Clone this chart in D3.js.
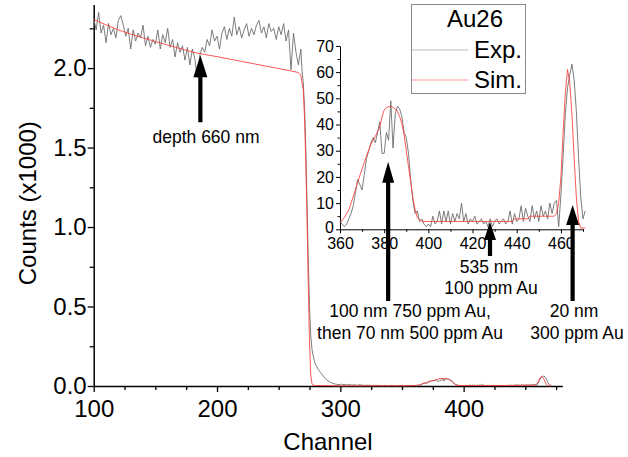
<!DOCTYPE html>
<html><head><meta charset="utf-8">
<script src="https://cdn.jsdelivr.net/npm/d3@7"></script>
<style>
body{margin:0;background:#fff}
svg{display:block}
text{font-family:"Liberation Sans",Arial,Helvetica,sans-serif;fill:#000}
</style>
</head><body>
<svg id="chart" width="628" height="457"></svg>
<script>
// ---------- DATA ----------
// Experimental spectrum, plateau (counts x1000), channels 100..268 step 2
const expPlateauStart = 100, expPlateauStep = 2;
const expPlateau = [
 2.31,2.24,2.35,2.22,2.27,2.16,2.28,2.21,2.25,2.19,
 2.30,2.33,2.27,2.20,2.25,2.12,2.24,2.17,2.22,2.19,
 2.27,2.14,2.20,2.13,2.18,2.15,2.24,2.12,2.21,2.16,
 2.25,2.13,2.18,2.07,2.16,2.10,2.14,2.05,2.13,2.02,
 2.12,2.06,1.94,2.08,2.13,2.10,2.18,2.14,2.24,2.17,
 2.20,2.12,2.22,2.26,2.18,2.25,2.20,2.32,2.21,2.26,
 2.19,2.24,2.28,2.20,2.25,2.21,2.27,2.30,2.22,2.26,
 2.19,2.28,2.23,2.25,2.18,2.26,2.21,2.28,2.17,2.24,
 1.99,2.22,2.10,2.02,2.12];
// Experimental spectrum, surface edge (counts x1000), channels 269..299
const expEdgeStart = 269;
const expEdge = [
 1.98,1.90,1.75,1.50,1.15,0.80,0.50,0.32,0.23,0.19,
 0.155,0.135,0.12,0.105,0.095,0.085,0.075,0.065,0.055,0.045,
 0.038,0.032,0.027,0.023,0.020,0.017,0.014,0.012,0.010,0.009,0.008];
// Experimental spectrum, Au region (counts), channels 300..471
const expTailStart = 300;
const expTail = [
 9,12,7,11,8,10,6,9,7,8,
 6,8,5,7,4,6,8,5,6,4,
 5,3,6,4,5,2,4,5,3,4,
 3,5,2,4,3,2,4,3,2,3,
 2,4,3,2,3,1,3,2,4,2,
 3,2,1,3,2,4,3,2,4,3,
 3,2,1,2,4,6,9,14,19,17,
 15,21,27,30,33,35,33,37,41,29,
 29,37,34,49,31,44,47,46,43,37,
 35,29,19,11,6,7,3,4,2,1,
 2,1,5,2,3,7,2,7,3,7,
 2,6,3,6,4,10,3,6,2,4,
 3,5,2,3,4,2,3,1,4,1,
 3,4,2,3,4,2,3,7,2,6,
 3,4,9,3,8,5,3,9,4,7,
 3,9,5,7,4,10,6,10,11,1,
 13,28,44,54,59,63,57,45,27,12,
 4,7];
// Simulation, plateau + edge (counts x1000)
const simHeadCh = [100,110,120,130,140,150,160,170,180,190,200,210,220,230,240,250,260,266,268,270,271,272,273,274,275,276,277,278];
const simHead   = [2.305,2.272,2.240,2.214,2.190,2.167,2.145,2.123,2.101,2.085,2.072,2.057,2.042,2.027,2.012,1.997,1.982,1.972,1.955,1.86,1.68,1.40,1.05,0.63,0.28,0.07,0.015,0.005];
// Simulation, Au region (counts)
const simTailCh = [280,290,300,320,340,356,358,360,362,364,366,368,370,372,374,376,378,379,380,381,383,385,386,387,388,389,390,391,392,393,394,395,396,397,438,439,445,446,457,458,459,460,461,462,463,464,465,466,467,468,469,471];
const simTail   = [3,2,1,1,1,1.5,2,2.5,4.5,7.5,12.5,18,23,28,32.5,35.5,39,43,45.5,46.5,47,46,45,43,40.5,36,30,24,18,12,7.5,4.5,3.5,3,3,4,4,5,5,6,10,20,37,52,61,56,44,27,12,3,0.5,0.5];

const mainXTicks = [100,200,300,400];
const mainYTicks = [0,0.5,1.0,1.5,2.0];
const insetXTicks = [360,380,400,420,440,460];
const insetYTicks = [0,10,20,30,40,50,60,70];

const legendTitle = "Au26";
const seriesNames = ["Exp.","Sim."];

// ---------- BUILD SERIES ----------
const exp = [];
expPlateau.forEach((v,i)=>exp.push({ch:expPlateauStart+i*expPlateauStep, k:v}));
expEdge.forEach((v,i)=>exp.push({ch:expEdgeStart+i, k:v}));
expTail.forEach((v,i)=>exp.push({ch:expTailStart+i, k:v/1000}));
const sim = [];
simHeadCh.forEach((c,i)=>sim.push({ch:c, k:simHead[i]}));
simTailCh.forEach((c,i)=>sim.push({ch:c, k:simTail[i]/1000}));

const expInset = exp.filter(d=>d.ch>=360);
const simInset = sim.filter(d=>d.ch>=360);

// ---------- DRAW ----------
const svg = d3.select("#chart");
const EXP_COLOR = "#666666", SIM_COLOR = "#ff3a3a";

// main scales
const x = d3.scaleLinear().domain([100,480]).range([93.7,562.3]);
const y = d3.scaleLinear().domain([0,2.4]).range([386,4.5]);

// main axes
const gx = svg.append("g").attr("transform","translate(0,386)");
gx.call(d3.axisBottom(x).tickValues(d3.range(125,480,25).filter(v=>v%100!==0)).tickSize(4).tickSizeOuter(0).tickFormat(""));
gx.call(g=>g.select(".domain").remove());
const gx2 = svg.append("g").attr("transform","translate(0,386)");
gx2.call(d3.axisBottom(x).tickValues(mainXTicks).tickSize(6).tickPadding(8).tickSizeOuter(0).tickFormat(d3.format("d")));
gx2.select(".domain").attr("stroke-width",1.5);
gx2.selectAll("text").style("font-size","24px");

const gy = svg.append("g").attr("transform","translate(93.7,0)");
gy.call(d3.axisLeft(y).tickValues(d3.range(0.25,2.4,0.5)).tickSize(4).tickSizeOuter(0).tickFormat(""));
gy.call(g=>g.select(".domain").remove());
const gy2 = svg.append("g").attr("transform","translate(93.7,0)");
gy2.call(d3.axisLeft(y).tickValues(mainYTicks).tickSize(6).tickPadding(1).tickSizeOuter(0).tickFormat(d3.format(".1f")));
gy2.select(".domain").attr("stroke-width",1.5);
gy2.selectAll("text").style("font-size","24px");
svg.selectAll(".tick line").attr("stroke-width",1.3);

svg.append("text").attr("x",x(290)).attr("y",450).attr("text-anchor","middle")
  .style("font-size","24px").text("Channel");
svg.append("text").attr("transform",`translate(36,${y(1.15)}) rotate(-90)`).attr("text-anchor","middle")
  .style("font-size","24px").text("Counts (x1000)");

// main lines
const lineMain = d3.line().x(d=>x(d.ch)).y(d=>y(d.k));
svg.append("path").datum(exp).attr("d",lineMain).attr("fill","none")
  .attr("stroke",EXP_COLOR).attr("stroke-width",0.85).attr("stroke-linejoin","round");
svg.append("path").datum(sim).attr("d",lineMain).attr("fill","none")
  .attr("stroke",SIM_COLOR).attr("stroke-width",0.85).attr("stroke-linejoin","round");

// inset scales
const xi = d3.scaleLinear().domain([360,470]).range([340,583]);
const yi = d3.scaleLinear().domain([0,70]).range([229.3,45.9]);

const ig = svg.append("g");
const ixm = ig.append("g").attr("transform","translate(0,229.3)");
ixm.call(d3.axisBottom(xi).tickValues(d3.range(370,471,20)).tickSize(2.5).tickSizeOuter(0).tickFormat(""));
ixm.select(".domain").remove();
const ix = ig.append("g").attr("transform","translate(0,229.3)");
ix.call(d3.axisBottom(xi).tickValues(insetXTicks).tickSize(4).tickPadding(4).tickSizeOuter(0).tickFormat(d3.format("d")));
ix.selectAll("text").style("font-size","16px");
const iym = ig.append("g").attr("transform","translate(340,0)");
iym.call(d3.axisLeft(yi).tickValues(d3.range(5,70,10)).tickSize(2.5).tickSizeOuter(0).tickFormat(""));
iym.select(".domain").remove();
const iy = ig.append("g").attr("transform","translate(340,0)");
iy.call(d3.axisLeft(yi).tickValues(insetYTicks).tickSize(4).tickPadding(2).tickSizeOuter(0).tickFormat(d3.format("d")));
iy.selectAll("text").style("font-size","16px");
iy.selectAll(".tick").filter(d=>d===0).select("text").attr("dy","0.2em");
ig.selectAll(".tick line").attr("stroke-width",1);
ig.selectAll(".domain").attr("stroke-width",1);

const lineInset = d3.line().x(d=>xi(d.ch)).y(d=>yi(d.k*1000));
svg.append("path").datum(expInset).attr("d",lineInset).attr("fill","none")
  .attr("stroke",EXP_COLOR).attr("stroke-width",0.85).attr("stroke-linejoin","round");
svg.append("path").datum(simInset).attr("d",lineInset).attr("fill","none")
  .attr("stroke",SIM_COLOR).attr("stroke-width",0.85).attr("stroke-linejoin","round");

// legend
const lg = svg.append("g");
lg.append("rect").attr("x",411.5).attr("y",4.5).attr("width",114).attr("height",89)
  .attr("fill","none").attr("stroke","#8a8a8a").attr("stroke-width",1);
lg.append("text").attr("x",475).attr("y",27).attr("text-anchor","middle").style("font-size","24px").text(legendTitle);
[["#bdbdbd",50,58],["#ff9a9a",80,88]].forEach((s,i)=>{
  lg.append("line").attr("x1",412).attr("x2",468).attr("y1",s[1]).attr("y2",s[1])
    .attr("stroke",s[0]).attr("stroke-width",1.2);
  lg.append("text").attr("x",474).attr("y",s[2]).style("font-size","24px").text(seriesNames[i]);
});

// arrows
function arrow(px, tipY, tailY, headLen, halfW, shaftW){
  const p = d3.path();
  p.moveTo(px, tipY);
  p.lineTo(px+halfW, tipY+headLen);
  p.lineTo(px+shaftW/2, tipY+headLen);
  p.lineTo(px+shaftW/2, tailY);
  p.lineTo(px-shaftW/2, tailY);
  p.lineTo(px-shaftW/2, tipY+headLen);
  p.lineTo(px-halfW, tipY+headLen);
  p.closePath();
  svg.append("path").attr("d",p.toString()).attr("fill","#000");
}
arrow(x(186.5), y(2.08), y(1.66), 22, 7, 4.2);
arrow(xi(381.8), yi(25.8), yi(-27.4), 21, 6, 4.2);
arrow(xi(427.9), yi(2.8), yi(-10.2), 18, 6, 4.2);
arrow(xi(465.3), yi(9.3), yi(-27.4), 20, 6.5, 4.2);

// annotations
function label(tx, ty, t){
  svg.append("text").attr("x",tx).attr("y",ty).attr("text-anchor","middle").style("font-size","17.5px").text(t);
}
label(206, 143, "depth 660 nm");
label(489, 273, "535 nm");
label(491, 294, "100 ppm Au");
label(410, 317, "100 nm 750 ppm Au,");
label(410, 339, "then 70 nm 500 ppm Au");
label(574, 317, "20 nm");
label(577, 339, "300 ppm Au");
</script>
</body></html>
